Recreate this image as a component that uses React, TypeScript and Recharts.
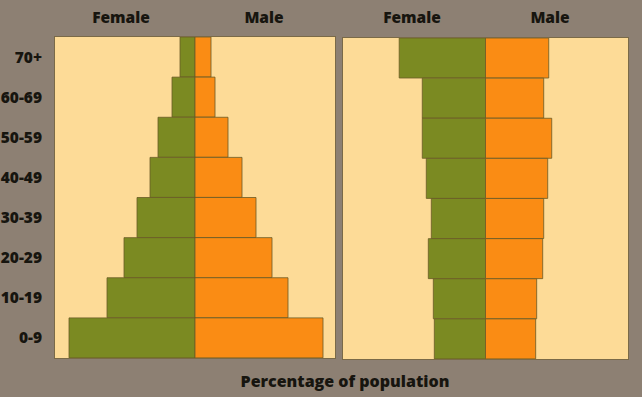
import { BarChart, Bar, XAxis, YAxis } from "recharts";

const ageGroups = ["70+", "60-69", "50-59", "40-49", "30-39", "20-29", "10-19", "0-9"];

// left pyramid (percentage of population)
const leftFemale = [0.75, 1.15, 1.85, 2.25, 2.9, 3.55, 4.4, 6.3];
const leftMale = [0.8, 1.0, 1.65, 2.35, 3.05, 3.85, 4.65, 6.4];

// right pyramid
const rightFemale = [4.3, 3.15, 3.15, 2.95, 2.7, 2.85, 2.6, 2.55];
const rightMale = [3.15, 2.9, 3.3, 3.1, 2.9, 2.85, 2.55, 2.5];

const BG = "#8d8073";
const PANEL = "#fddb97";
const GREEN = "#7b8a22";
const ORANGE = "#fa8c14";
const EDGE = "#6a5a26";
const TEXT = "#17150f";
const FONT = "'Open Sans', sans-serif";

const buildRows = (female: number[], male: number[]) =>
  ageGroups.map((age, i) => ({ age, female: -female[i], male: male[i] }));

const headerStyle = (left: number): React.CSSProperties => ({
  position: "absolute",
  top: 6,
  left: left - 40,
  width: 80,
  textAlign: "center",
  fontFamily: FONT,
  fontWeight: 800,
  fontSize: 15.5,
  color: TEXT,
});

function Pyramid({
  female,
  male,
  domain,
  showAges,
  width,
}: {
  female: number[];
  male: number[];
  domain: number;
  showAges: boolean;
  width: number;
}) {
  return (
    <BarChart
      width={width}
      height={321}
      layout="vertical"
      data={buildRows(female, male)}
      stackOffset="sign"
      barCategoryGap={0}
      margin={{ top: 0, right: 0, bottom: 0, left: 0 }}
    >
      <XAxis type="number" hide domain={[-domain, domain]} allowDataOverflow />
      <YAxis
        type="category"
        dataKey="age"
        hide={!showAges}
        width={55}
        axisLine={false}
        tickLine={false}
        tickMargin={7}
        tick={{ fill: TEXT, fontFamily: FONT, fontWeight: 800, fontSize: 15.5 }}
      />
      <Bar
        dataKey="female"
        stackId="p"
        fill={GREEN}
        stroke={EDGE}
        strokeWidth={0.8}
        isAnimationActive={false}
      />
      <Bar
        dataKey="male"
        stackId="p"
        fill={ORANGE}
        stroke={EDGE}
        strokeWidth={0.8}
        isAnimationActive={false}
      />
    </BarChart>
  );
}

export default function App() {
  return (
    <div
      style={{
        position: "absolute",
        left: 0,
        top: 0,
        width: 642,
        height: 397,
        background: BG,
        overflow: "hidden",
      }}
    >
      <div
        style={{
          position: "absolute",
          left: 55,
          top: 37,
          width: 280,
          height: 321,
          background: PANEL,
          boxShadow: "0 0 0 1px #7a6a48",
        }}
      />
      <div
        style={{
          position: "absolute",
          left: 343,
          top: 38,
          width: 285,
          height: 321,
          background: PANEL,
          boxShadow: "0 0 0 1px #7a6a48",
        }}
      />
      <div style={{ position: "absolute", left: 0, top: 37 }}>
        <Pyramid female={leftFemale} male={leftMale} domain={7} showAges width={335} />
      </div>
      <div style={{ position: "absolute", left: 343, top: 38 }}>
        <Pyramid female={rightFemale} male={rightMale} domain={7.1} showAges={false} width={285} />
      </div>
      <div style={headerStyle(121)}>Female</div>
      <div style={headerStyle(264)}>Male</div>
      <div style={headerStyle(412)}>Female</div>
      <div style={headerStyle(550)}>Male</div>
      <div
        style={{
          position: "absolute",
          left: 0,
          top: 370,
          width: 690,
          textAlign: "center",
          fontFamily: FONT,
          fontWeight: 800,
          fontSize: 16,
          color: TEXT,
        }}
      >
        Percentage of population
      </div>
    </div>
  );
}
